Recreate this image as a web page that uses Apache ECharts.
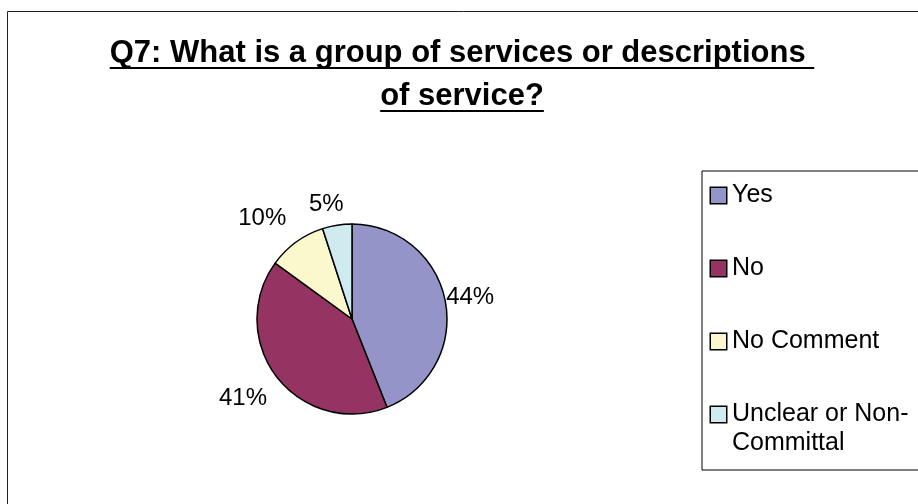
<!DOCTYPE html>
<html>
<head>
<meta charset="utf-8">
<script src="https://cdn.jsdelivr.net/npm/echarts@6/dist/echarts.min.js"></script>
<style>
  html, body { margin: 0; padding: 0; background: #fff; }
  #chart { width: 918px; height: 504px; }
</style>
</head>
<body>
<div id="chart"></div>
<script>
// Survey answers to Q7
const categories = ['Yes', 'No', 'No Comment', 'Unclear or Non-Committal'];
const shares = [44, 41, 10, 5];
const titleLines = ['Q7: What is a group of services or descriptions ', 'of service?'];

const palette = ['#9494C9', '#953462', '#FBF8CE', '#D0EBEF'];
const FONT = '"Liberation Sans", Arial, Helvetica, sans-serif';
// small offsets for the outside percentage labels, per slice
const labelNudge = [[-9, -2], [-2, 15], [-4, -16], [8, -11]];

const chart = echarts.init(document.getElementById('chart'), null, { renderer: 'canvas' });

function textWidth(str, font) {
  const ctx = document.createElement('canvas').getContext('2d');
  ctx.font = font;
  return ctx.measureText(str).width;
}

// underlined, centred two-line title
const titleSize = 31;
const titleX = 462;
const titleY = [53, 96];
const titleGraphics = [];
titleLines.forEach((line, i) => {
  const w = textWidth(line, 'bold ' + titleSize + 'px ' + FONT);
  titleGraphics.push({
    type: 'text', x: titleX, y: titleY[i], silent: true,
    style: {
      text: line, fill: '#000', fontSize: titleSize, fontWeight: 'bold',
      fontFamily: FONT, align: 'center', verticalAlign: 'middle'
    }
  });
  titleGraphics.push({
    type: 'rect', silent: true,
    shape: { x: titleX - w / 2, y: titleY[i] + 14, width: w, height: 2 },
    style: { fill: '#000' }
  });
});

// legend entries: coloured square + wrapped text
const legendFontSize = 25;
const legendLineHeight = 29;
const swatch = 15;
const legendRich = {
  t: { fontSize: legendFontSize, lineHeight: legendLineHeight, color: '#000', fontFamily: FONT, padding: [0, 0, 0, 6] },
  gap: { width: swatch }
};
palette.forEach((c, i) => {
  legendRich['sq' + i] = { width: swatch, height: swatch, backgroundColor: c, borderColor: '#000', borderWidth: 1.5 };
});

function legendLabel(name) {
  const i = categories.indexOf(name);
  return name.replace('Non-', 'Non-\n').split('\n')
    .map((part, k) => (k === 0 ? '{sq' + i + '|}' : '{gap|}') + '{t|' + part + '}')
    .join('\n');
}

chart.setOption({
  animation: false,
  backgroundColor: '#fff',
  graphic: [
    {
      type: 'rect', silent: true,
      shape: { x: 7.5, y: 11.5, width: 1000, height: 1000 },
      style: { fill: 'none', stroke: '#222', lineWidth: 1 }
    }
  ].concat(titleGraphics),
  legend: {
    orient: 'vertical',
    left: 702,
    top: 171,
    icon: 'none',
    itemWidth: 0,
    itemHeight: 0,
    itemGap: 44,
    padding: [10, 30, 12, 4],
    borderColor: '#000',
    borderWidth: 1,
    selectedMode: false,
    data: categories,
    formatter: legendLabel,
    textStyle: { fontSize: legendFontSize, lineHeight: legendLineHeight, fontFamily: FONT, color: '#000', rich: legendRich }
  },
  series: [{
    type: 'pie',
    center: [352, 319],
    radius: 95,
    startAngle: 90,
    clockwise: true,
    avoidLabelOverlap: false,
    silent: true,
    emphasis: { disabled: true },
    itemStyle: { borderColor: '#000', borderWidth: 1.5 },
    label: {
      show: true, position: 'outside', formatter: '{c}%',
      fontSize: 24, color: '#000', fontFamily: FONT, distanceToLabelLine: 0
    },
    labelLine: { show: false, length: 10, length2: 0 },
    labelLayout: p => ({ dx: labelNudge[p.dataIndex][0], dy: labelNudge[p.dataIndex][1] }),
    data: categories.map((name, i) => ({ name, value: shares[i], itemStyle: { color: palette[i] } }))
  }]
});
</script>
</body>
</html>
